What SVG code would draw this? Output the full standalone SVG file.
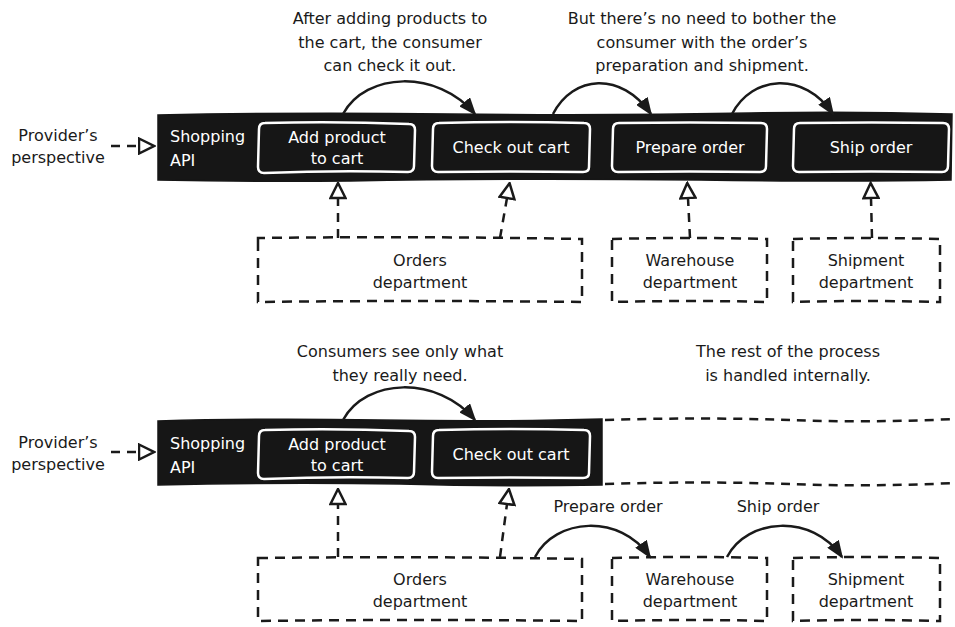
<svg xmlns="http://www.w3.org/2000/svg" width="955" height="627" viewBox="0 0 955 627">
  <defs>
    <style>
      .t { font-family: "DejaVu Sans", "Liberation Sans", sans-serif; font-size: 16px; fill: #1a1a1a; }
      .w { font-family: "DejaVu Sans", "Liberation Sans", sans-serif; font-size: 16px; fill: #ffffff; }
      .mid { text-anchor: middle; }
      .bar { fill: #161616; stroke: #161616; stroke-width: 1.5; }
      .op { fill: none; stroke: #ffffff; stroke-width: 2.5; }
      .dept { fill: none; stroke: #1a1a1a; stroke-width: 2.5; stroke-dasharray: 10 7; }
      .dash { fill: none; stroke: #1a1a1a; stroke-width: 2.5; stroke-dasharray: 9 7; }
      .arc { fill: none; stroke: #1a1a1a; stroke-width: 2.5; }
    </style>
    <marker id="solid" viewBox="0 0 18 14" refX="16" refY="7" markerWidth="18" markerHeight="14" markerUnits="userSpaceOnUse" orient="auto">
      <path d="M0,0 L18,7 L0,14 z" fill="#1a1a1a"/>
    </marker>
    <marker id="hollow" viewBox="0 0 18 18" refX="1.5" refY="9" markerWidth="18" markerHeight="18" markerUnits="userSpaceOnUse" orient="auto">
      <path d="M1.5,1.5 L16.5,9 L1.5,16.5 z" fill="#ffffff" stroke="#1a1a1a" stroke-width="2.5" stroke-linejoin="miter"/>
    </marker>
  </defs>

  <!-- ===== Upper view: every operation exposed ===== -->
  <g id="top-annotations">
    <text class="t mid" x="390" y="24">After adding products to</text>
    <text class="t mid" x="390" y="48">the cart, the consumer</text>
    <text class="t mid" x="390" y="71">can check it out.</text>
    <text class="t mid" x="702" y="24">But there’s no need to bother the</text>
    <text class="t mid" x="702" y="48">consumer with the order’s</text>
    <text class="t mid" x="702" y="71">preparation and shipment.</text>
  </g>

  <g id="top-provider">
    <text class="t mid" x="58" y="141">Provider’s</text>
    <text class="t mid" x="58" y="163">perspective</text>
  </g>

  <g id="top-api">
    <path class="bar" d="M158,115 Q300,112 450,114 Q600,116 750,113 Q850,111 952,114 L951,180 Q850,182 700,180 Q500,178 350,181 Q250,182 158,180 Z"/>
    <text class="w" x="170" y="142">Shopping</text>
    <text class="w" x="170" y="166">API</text>
  </g>

  <g id="top-add-product">
    <path class="op" d="M265,123 Q336,121 409,124 Q415,124 415,130 L414,166 Q414,172 408,172 Q336,170 264,173 Q258,173 258,167 L259,129 Q259,123 265,123 Z"/>
    <text class="w mid" x="337" y="143">Add product</text>
    <text class="w mid" x="337" y="164">to cart</text>
  </g>

  <g id="top-check-out">
    <path class="op" d="M439,123 Q511,121 584,123 Q590,123 590,129 L589,167 Q589,172 583,172 Q511,171 438,172 Q432,172 432,166 L433,129 Q433,123 439,123 Z"/>
    <text class="w mid" x="511" y="153">Check out cart</text>
  </g>

  <g id="top-prepare">
    <path class="op" d="M619,123 Q690,122 761,123 Q767,123 767,129 L766,166 Q766,172 760,172 Q690,171 618,172 Q612,172 612,166 L613,129 Q613,123 619,123 Z"/>
    <text class="w mid" x="690" y="153">Prepare order</text>
  </g>

  <g id="top-ship">
    <path class="op" d="M800,123 Q872,122 943,123 Q949,123 949,129 L948,166 Q948,172 942,172 Q872,171 799,172 Q793,172 793,166 L794,129 Q794,123 800,123 Z"/>
    <text class="w mid" x="871" y="153">Ship order</text>
  </g>

  <g id="top-orders">
    <path class="dept" d="M258,241 L258,238 Q420,236 582,239 L582,302 Q420,300 258,302 Z"/>
    <text class="t mid" x="420" y="266">Orders</text>
    <text class="t mid" x="420" y="288">department</text>
  </g>

  <g id="top-warehouse">
    <path class="dept" d="M612,239 Q690,237 767,239 L767,302 Q690,300 612,302 Z"/>
    <text class="t mid" x="690" y="266">Warehouse</text>
    <text class="t mid" x="690" y="288">department</text>
  </g>

  <g id="top-shipment">
    <path class="dept" d="M793,239 Q866,237 940,239 L940,302 Q866,300 793,302 Z"/>
    <text class="t mid" x="866" y="266">Shipment</text>
    <text class="t mid" x="866" y="288">department</text>
  </g>

  <g id="top-connectors">
    <path class="dash" d="M111,146 L139,146" marker-end="url(#hollow)"/>
    <path class="arc" d="M343,114 C366,72 437,69 475,114" marker-end="url(#solid)"/>
    <path class="arc" d="M553,114 C573,75 621,71 651,114" marker-end="url(#solid)"/>
    <path class="arc" d="M732,114 C752,75 804,71 833,114" marker-end="url(#solid)"/>
    <path class="dash" d="M338,238 L338,198" marker-end="url(#hollow)"/>
    <path class="dash" d="M500,238 L507,198" marker-end="url(#hollow)"/>
    <path class="dash" d="M690,238 L688,198" marker-end="url(#hollow)"/>
    <path class="dash" d="M872,238 L871,198" marker-end="url(#hollow)"/>
  </g>

  <!-- ===== Lower view: only consumer operations exposed ===== -->
  <g id="bottom-annotations">
    <text class="t mid" x="400" y="357">Consumers see only what</text>
    <text class="t mid" x="400" y="381">they really need.</text>
    <text class="t mid" x="788" y="357">The rest of the process</text>
    <text class="t mid" x="788" y="381">is handled internally.</text>
  </g>

  <g id="bottom-provider">
    <text class="t mid" x="58" y="448">Provider’s</text>
    <text class="t mid" x="58" y="470">perspective</text>
  </g>

  <g id="bottom-api">
    <path class="bar" d="M158,421 Q260,418 380,420 Q500,422 602,419 L602,485 Q500,487 400,484 Q280,482 158,485 Z"/>
    <text class="w" x="170" y="449">Shopping</text>
    <text class="w" x="170" y="473">API</text>
  </g>

  <g id="internal-region">
    <path class="dash" d="M605,420 Q700,417 790,420 Q870,423 955,419"/>
    <path class="dash" d="M605,484 Q700,481 790,484 Q870,487 955,483"/>
  </g>

  <g id="bottom-add-product">
    <path class="op" d="M265,430 Q336,428 409,431 Q415,431 415,437 L414,472 Q414,478 408,478 Q336,476 264,479 Q258,479 258,473 L259,436 Q259,430 265,430 Z"/>
    <text class="w mid" x="337" y="450">Add product</text>
    <text class="w mid" x="337" y="471">to cart</text>
  </g>

  <g id="bottom-check-out">
    <path class="op" d="M439,430 Q511,428 584,430 Q590,430 590,436 L589,473 Q589,478 583,478 Q511,477 438,478 Q432,478 432,472 L433,436 Q433,430 439,430 Z"/>
    <text class="w mid" x="511" y="460">Check out cart</text>
  </g>

  <g id="bottom-orders">
    <path class="dept" d="M258,558 Q420,556 582,559 L582,621 Q420,619 258,621 Z"/>
    <text class="t mid" x="420" y="585">Orders</text>
    <text class="t mid" x="420" y="607">department</text>
  </g>

  <g id="bottom-warehouse">
    <path class="dept" d="M612,558 Q690,556 767,558 L767,621 Q690,619 612,621 Z"/>
    <text class="t mid" x="690" y="585">Warehouse</text>
    <text class="t mid" x="690" y="607">department</text>
  </g>

  <g id="bottom-shipment">
    <path class="dept" d="M793,558 Q866,556 940,558 L940,621 Q866,619 793,621 Z"/>
    <text class="t mid" x="866" y="585">Shipment</text>
    <text class="t mid" x="866" y="607">department</text>
  </g>

  <g id="bottom-connectors">
    <path class="dash" d="M111,452 L139,452" marker-end="url(#hollow)"/>
    <path class="arc" d="M343,420 C366,378 437,375 475,420" marker-end="url(#solid)"/>
    <path class="dash" d="M338,557 L338,504" marker-end="url(#hollow)"/>
    <path class="dash" d="M500,557 L507,504" marker-end="url(#hollow)"/>
    <text class="t mid" x="608" y="512">Prepare order</text>
    <path class="arc" d="M535,557 C555,518 620,513 650,557" marker-end="url(#solid)"/>
    <text class="t mid" x="778" y="512">Ship order</text>
    <path class="arc" d="M727,557 C747,518 812,513 842,557" marker-end="url(#solid)"/>
  </g>
</svg>
